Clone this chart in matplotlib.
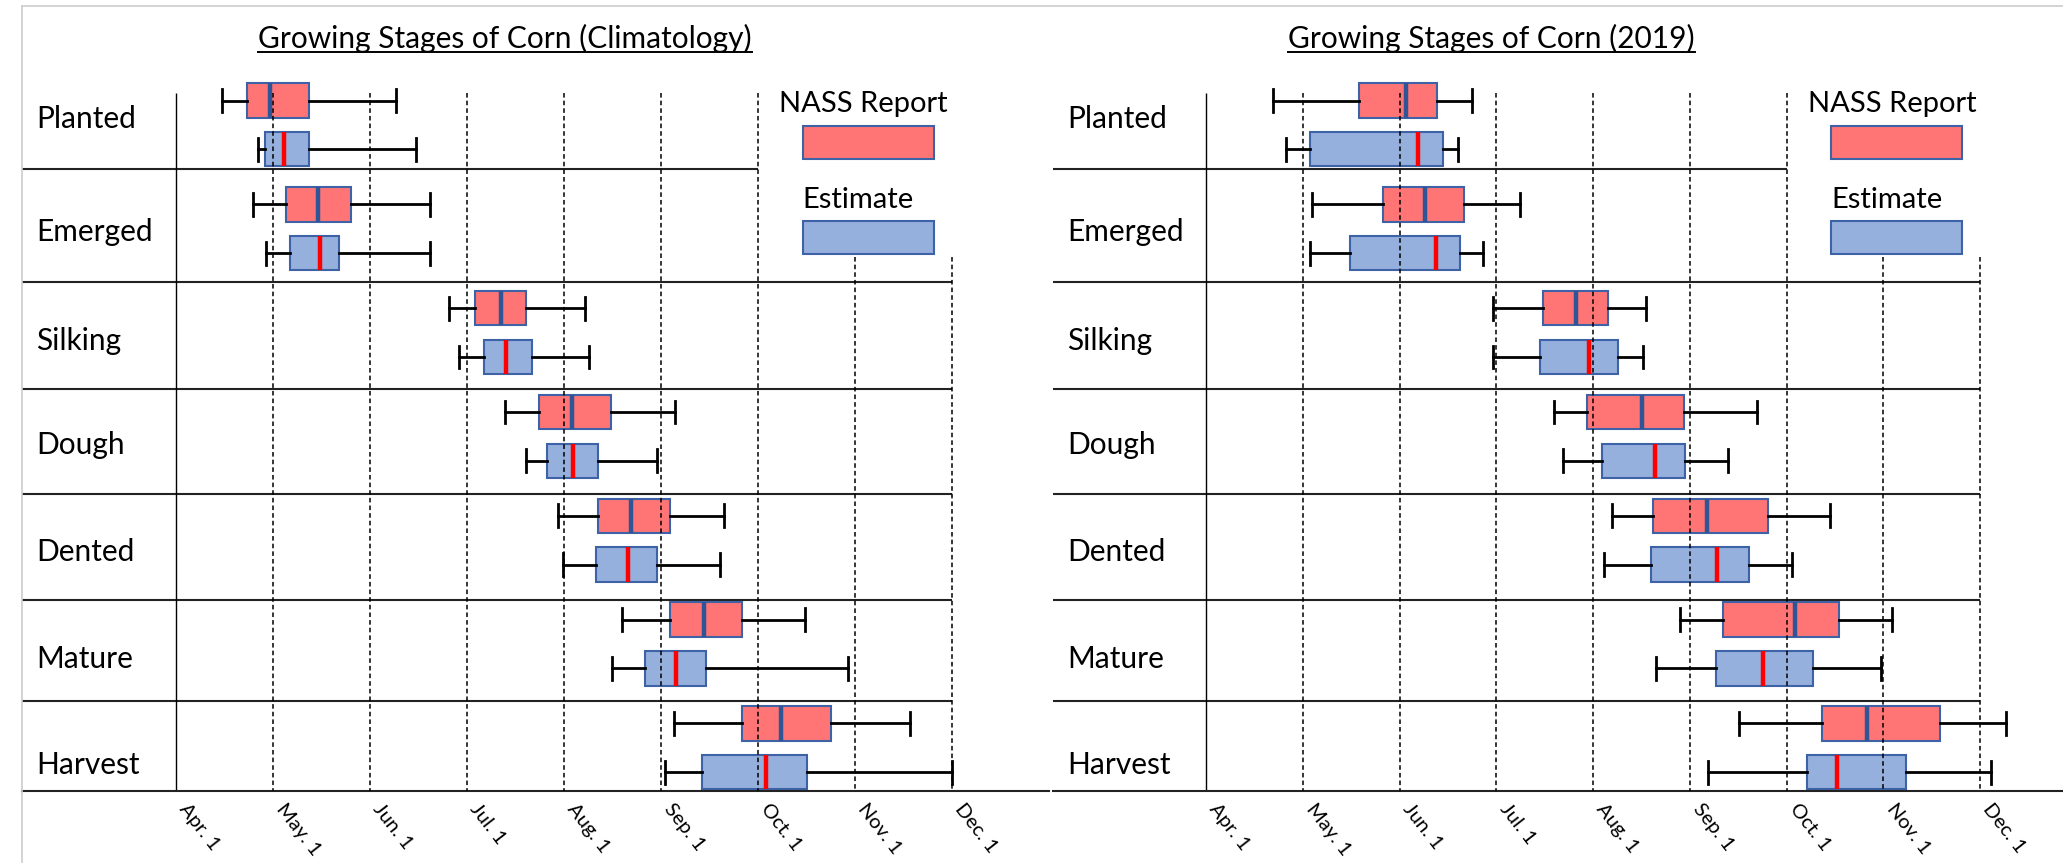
import matplotlib
matplotlib.use("Agg")
import matplotlib.pyplot as plt
from matplotlib.patches import Rectangle
from matplotlib.lines import Line2D

plt.rcParams["font.family"] = ["Lato", "DejaVu Sans"]

stages = ["Planted", "Emerged", "Silking", "Dough", "Dented", "Mature", "Harvest"]
month_labels = ["Apr. 1", "May. 1", "Jun. 1", "Jul. 1", "Aug. 1",
                "Sep. 1", "Oct. 1", "Nov. 1", "Dec. 1"]

# months after Apr. 1: [whisker low, q1, median, q3, whisker high]
clim_nass = [
    [0.47, 0.73, 0.97, 1.37, 2.27],
    [0.79, 1.13, 1.46, 1.80, 2.62],
    [2.81, 3.08, 3.35, 3.61, 4.22],
    [3.39, 3.74, 4.08, 4.48, 5.14],
    [3.94, 4.35, 4.69, 5.09, 5.65],
    [4.60, 5.09, 5.44, 5.84, 6.48],
    [5.13, 5.84, 6.24, 6.75, 7.57],
]
clim_est = [
    [0.85, 0.92, 1.11, 1.37, 2.47],
    [0.93, 1.18, 1.48, 1.68, 2.62],
    [2.92, 3.18, 3.40, 3.67, 4.26],
    [3.61, 3.82, 4.09, 4.35, 4.96],
    [3.99, 4.33, 4.66, 4.96, 5.61],
    [4.49, 4.84, 5.15, 5.46, 6.93],
    [5.04, 5.42, 6.08, 6.51, 8.00],
]
y2019_nass = [
    [0.69, 1.58, 2.07, 2.39, 2.75],
    [1.10, 1.83, 2.26, 2.67, 3.25],
    [2.97, 3.48, 3.82, 4.16, 4.55],
    [3.60, 3.94, 4.51, 4.94, 5.70],
    [4.20, 4.62, 5.18, 5.81, 6.45],
    [4.90, 5.34, 6.09, 6.54, 7.09],
    [5.51, 6.37, 6.83, 7.59, 8.27],
]
y2019_est = [
    [0.83, 1.07, 2.19, 2.45, 2.60],
    [1.07, 1.49, 2.38, 2.63, 2.86],
    [2.97, 3.45, 3.96, 4.26, 4.52],
    [3.69, 4.09, 4.64, 4.95, 5.40],
    [4.11, 4.60, 5.28, 5.61, 6.06],
    [4.65, 5.27, 5.76, 6.27, 6.98],
    [5.19, 6.21, 6.52, 7.24, 8.11],
]

RED = "#FF7575"
BLUE = "#95B0DD"
EDGE = "#3E62A6"
DARKBLUE = "#2F5597"

W, H = 2063, 863
fig = plt.figure(figsize=(W / 100, H / 100), dpi=100)


def to_stats(rows):
    return [dict(whislo=r[0], q1=r[1], med=r[2], q3=r[3], whishi=r[4], fliers=[]) for r in rows]


def draw_boxes(ax, rows, positions, face, med_color):
    kw = dict(positions=positions, widths=0.33, patch_artist=True, showfliers=False,
              capwidths=0.22, manage_ticks=False, zorder=2,
              boxprops=dict(facecolor=face, edgecolor=EDGE, linewidth=1.5),
              medianprops=dict(color=med_color, linewidth=3.2, solid_capstyle="butt"),
              whiskerprops=dict(color="black", linewidth=2),
              capprops=dict(color="black", linewidth=2))
    try:
        ax.bxp(to_stats(rows), orientation="horizontal", **kw)
    except TypeError:
        ax.bxp(to_stats(rows), vert=False, **kw)


def panel(x0, x1, apr1, ppm, title, nass, est):
    ax = fig.add_axes([x0 / W, 0, (x1 - x0) / W, 1])
    ax.set_xlim((x0 - apr1) / ppm, (x1 - apr1) / ppm)
    ax.set_ylim(7.11, -1.204)
    xl = ax.get_xlim()[0]

    n = len(stages)
    draw_boxes(ax, nass, [i - 0.235 for i in range(n)], RED, DARKBLUE)
    draw_boxes(ax, est, [i + 0.235 for i in range(n)], BLUE, "#FF0000")

    # row separators
    seps = [0.424, 1.513, 2.543, 3.555, 4.576, 5.549]
    ax.hlines(seps[0], xl, 6, color="#222222", lw=1.5, zorder=1)
    ax.hlines(seps[1:], xl, 8, color="#222222", lw=1.5, zorder=1)

    # month grid
    bottom = 6.416
    ax.vlines(0, -0.308, bottom, color="black", lw=1.0, zorder=1)
    ax.vlines(range(1, 7), -0.308, bottom, color="black", lw=1.1,
              linestyles=[(0, (3, 2))], zorder=3)
    ax.vlines([7, 8], 1.272, bottom, color="black", lw=1.1,
              linestyles=[(0, (3, 2))], zorder=3)

    label_pos = [-0.06, 1.03, 2.08, 3.08, 4.11, 5.14, 6.17]
    for name, y in zip(stages, label_pos):
        ax.text((36 - 22 + x0 - apr1) / ppm, y, name, fontsize=21.5, ha="left", va="center")

    t = ax.text(0.85, -0.829, title, fontsize=21.5, ha="left", va="center")

    # legend
    ax.text(6.22, -0.202, "NASS Report", fontsize=21, ha="left", va="center")
    ax.add_patch(Rectangle((6.46, 0.0096), 1.35, 0.318, facecolor=RED, edgecolor=EDGE, lw=1.5))
    ax.text(6.46, 0.723, "Estimate", fontsize=21, ha="left", va="center")
    ax.add_patch(Rectangle((6.46, 0.925), 1.35, 0.318, facecolor=BLUE, edgecolor=EDGE, lw=1.5))

    for s in ["top", "left", "right"]:
        ax.spines[s].set_visible(False)
    ax.spines["bottom"].set_position(("data", bottom))
    ax.spines["bottom"].set_color("#222222")
    ax.spines["bottom"].set_linewidth(1.5)
    ax.set_xticks(range(9))
    ax.set_xticklabels(month_labels, rotation=-52, ha="left", va="top",
                       rotation_mode="default", fontsize=14.5)
    ax.tick_params(axis="x", length=0, pad=7)
    ax.set_yticks([])
    ax.patch.set_alpha(0)
    return ax, t


ax1, t1 = panel(22, 1049, 176, 97.0, "Growing Stages of Corn (Climatology)", clim_nass, clim_est)
ax2, t2 = panel(1053, 2063, 1206, 96.75, "Growing Stages of Corn (2019)", y2019_nass, y2019_est)

# light frame lines
fig.add_artist(Line2D([22 / W, 1], [1 - 6 / H] * 2, color="#cccccc", lw=1.2, transform=fig.transFigure))
fig.add_artist(Line2D([22 / W] * 2, [0, 1 - 6 / H], color="#cccccc", lw=1.2, transform=fig.transFigure))

# underline the titles
fig.canvas.draw()
r = fig.canvas.get_renderer()
for t in (t1, t2):
    bb = t.get_window_extent(r)
    y = (bb.y0 + 1) / H
    fig.add_artist(Line2D([bb.x0 / W, bb.x1 / W], [y, y], color="black", lw=1.4,
                          transform=fig.transFigure))

fig.savefig("out.png", dpi=100)
